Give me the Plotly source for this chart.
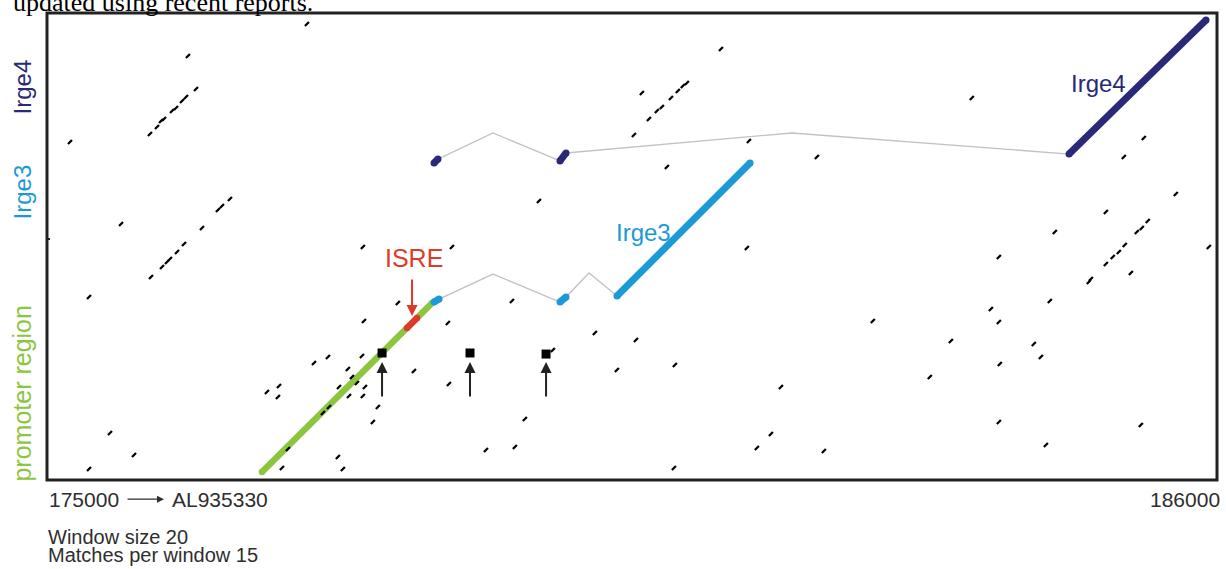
import plotly.graph_objects as go

# ---------------- data (reference position in bp, query position) ----------------
X_RANGE = [175000, 186000]
Y_RANGE = [0, 4390]

# promoter region match (green) and ISRE element (red)
promoter_x = [177021, 178620]
promoter_y = [75, 1664]
isre_x = [178385, 178479]
isre_y = [1429, 1523]

# Irge3 exon matches and intron connectors
irge3_exon_x = [178639, 178686, None, 179823, 179880, None, 180359, 181610]
irge3_exon_y = [1673, 1701, None, 1673, 1720, None, 1730, 2980]
irge3_intron_x = [178686, 179193, 179823, None, 179880, 180096, 180359]
irge3_intron_y = [1701, 1936, 1673, None, 1720, 1946, 1730]

# Irge4 exon matches and intron connectors
irge4_exon_x = [178639, 178676, None, 179823, 179880, None, 184609, 185897]
irge4_exon_y = [2980, 3017, None, 2999, 3074, None, 3064, 4324]
irge4_intron_x = [178676, 179193, 179823, None, 179880, 182004, 184609]
irge4_intron_y = [3017, 3262, 2999, None, 3074, 3262, 3064]

# background dot-plot matches
dot_x = [176325, 176401, 176307, 176269, 176213, 176175, 176100, 176072, 176034, 175968,
         175216, 176720, 176645, 176607, 176457, 176288, 176222, 176156, 176128, 176081,
         175978, 175696, 175395, 175592, 175818, 175395, 177444, 177970, 178807, 178299,
         177980, 178769, 179371, 180151, 177641, 177961, 177510, 177829, 177867, 177914,
         177745, 177989, 177970, 177839, 177181, 177068, 177171, 178450, 178779, 178111,
         177651, 177594, 178064, 179493, 179399, 179127, 177265, 177735, 177209, 177782,
         179756, 181336, 180593, 181016, 180978, 180931, 180866, 180781, 180734, 180659,
         180518, 181599, 182238, 180828, 179625, 181580, 183695, 185312, 185124, 185613,
         184955, 184475, 185349, 185293, 185246, 185133, 185923, 183949, 185077, 185020,
         184955, 184814, 184795, 185190, 184428, 183874, 183949, 182764, 183498, 184278,
         184344, 183958, 183300, 180537, 180358, 180903, 181900, 181806, 181674, 182304,
         180894, 183949, 184391, 185284]
dot_y = [3986, 3675, 3600, 3563, 3497, 3469, 3393, 3375, 3318, 3252,
         3177, 2641, 2576, 2538, 2369, 2218, 2143, 2077, 2049, 2002,
         1908, 2406, 1720, 442, 235, 103, 4286, 2190, 2190, 1664,
         1495, 1476, 1683, 1382, 1156, 1166, 1100, 1043, 968, 912,
         874, 874, 790, 790, 884, 827, 780, 1025, 902, 686,
         686, 630, 545, 573, 310, 282, 291, 216, 113, 103,
         1222, 4051, 3638, 3732, 3704, 3657, 3591, 3506, 3469, 3393,
         3243, 3187, 3036, 2942, 2623, 2181, 3591, 3215, 3036, 2688,
         2519, 2331, 2435, 2369, 2331, 2209, 2190, 2096, 2143, 2096,
         2030, 1889, 1861, 1946, 1683, 1607, 1485, 1495, 1307, 1278,
         1156, 1090, 968, 1316, 1034, 1081, 874, 432, 301, 273,
         113, 545, 329, 517]

# highlighted matches (squares) with arrows
square_x = [178150, 178977, 179692]
square_y = [1194, 1194, 1184]
arrow_tail_y = 771
arrow_head_y = 1109

# text labels
label_irge4 = (184882, 3732)
label_irge3 = (180604, 2331)
label_isre = (178451, 2087)
isre_arrow_x = 178432
isre_arrow_tail_y = 1899
isre_arrow_head_y = 1542
boundary_tick = [2265]

GREEN = "#8cc63f"
RED = "#dd3b2a"
BLUE = "#1b9ad6"
NAVY = "#2a2878"
GRAY = "#c2c2c2"
TEXT = "#2e2e2e"

fig = go.Figure()

for ix, iy in [(irge3_intron_x, irge3_intron_y), (irge4_intron_x, irge4_intron_y)]:
    fig.add_trace(go.Scatter(x=ix, y=iy, mode="lines", line=dict(color=GRAY, width=1.3),
                             hoverinfo="skip"))

def seg(xs, ys, color, width):
    fig.add_trace(go.Scatter(x=xs, y=ys, mode="lines+markers",
                             line=dict(color=color, width=width), connectgaps=False,
                             marker=dict(symbol="circle", size=width, color=color,
                                         line=dict(width=0)),
                             hoverinfo="skip"))

seg(promoter_x, promoter_y, GREEN, 6.5)
seg(isre_x, isre_y, RED, 6.5)
seg(irge3_exon_x, irge3_exon_y, BLUE, 7)
seg(irge4_exon_x, irge4_exon_y, NAVY, 7)

fig.add_trace(go.Scatter(x=dot_x, y=dot_y, mode="markers",
                         marker=dict(symbol="line-ne", size=4, color="black",
                                     line=dict(color="black", width=2.3)),
                         hoverinfo="skip"))
fig.add_trace(go.Scatter(x=square_x, y=square_y, mode="markers",
                         marker=dict(symbol="square", size=9, color="black"),
                         hoverinfo="skip"))

# arrows pointing to squares
for sx in square_x:
    fig.add_annotation(x=sx, y=arrow_head_y, ax=sx, ay=arrow_tail_y, xref="x", yref="y",
                       axref="x", ayref="y", showarrow=True, arrowhead=2, arrowsize=1.1,
                       arrowwidth=2, arrowcolor="#222222", text="")
# ISRE arrow
fig.add_annotation(x=isre_arrow_x, y=isre_arrow_head_y, ax=isre_arrow_x, ay=isre_arrow_tail_y,
                   xref="x", yref="y", axref="x", ayref="y", showarrow=True, arrowhead=2,
                   arrowsize=1.1, arrowwidth=2, arrowcolor=RED, text="")

FONT = "Liberation Sans, Arial, sans-serif"
fig.add_annotation(x=label_irge4[0], y=label_irge4[1], text="Irge4", showarrow=False,
                   xanchor="center", yanchor="middle",
                   font=dict(family=FONT, size=24, color=NAVY))
fig.add_annotation(x=label_irge3[0], y=label_irge3[1], text="Irge3", showarrow=False,
                   xanchor="center", yanchor="middle",
                   font=dict(family=FONT, size=24, color=BLUE))
fig.add_annotation(x=label_isre[0], y=label_isre[1], text="ISRE", showarrow=False,
                   xanchor="center", yanchor="middle",
                   font=dict(family=FONT, size=25, color=RED))

# rotated side labels
for txt, yp, col, fs in [("Irge4", 0.8415, NAVY, 24), ("Irge3", 0.6167, BLUE, 24),
                         ("promoter region", 0.186, GREEN, 25)]:
    fig.add_annotation(x=-0.021, y=yp, xref="paper", yref="paper", text=txt, textangle=-90,
                       xanchor="center", yanchor="middle",
                       showarrow=False, font=dict(family=FONT, size=fs, color=col))

# bottom texts
fig.add_annotation(x=0.0, y=-0.041, xref="paper", yref="paper", text="175000",
                   xanchor="left", yanchor="middle", showarrow=False,
                   font=dict(family=FONT, size=21, color=TEXT))
fig.add_annotation(x=(164 - 47) / 1170, y=-0.041, ax=-38, ay=0, xref="paper", yref="paper",
                   showarrow=True, arrowhead=2, arrowsize=1, arrowwidth=1.4,
                   arrowcolor=TEXT, text="")
fig.add_annotation(x=(170 - 47) / 1170, y=-0.041, xref="paper", yref="paper", text="AL935330",
                   xanchor="left", yanchor="middle", showarrow=False,
                   font=dict(family=FONT, size=21, color=TEXT))
fig.add_annotation(x=1.004, y=-0.041, xref="paper", yref="paper", text="186000",
                   xanchor="right", yanchor="middle", showarrow=False,
                   font=dict(family=FONT, size=21, color=TEXT))
fig.add_annotation(x=0.0, y=-0.121, xref="paper", yref="paper", text="Window size 20",
                   xanchor="left", yanchor="middle", showarrow=False, borderpad=0,
                   font=dict(family=FONT, size=20, color=TEXT))
fig.add_annotation(x=0.0, y=-0.161, xref="paper", yref="paper", text="Matches per window 15",
                   xanchor="left", yanchor="middle", showarrow=False, borderpad=0,
                   font=dict(family=FONT, size=20, color=TEXT))

# partially cut caption text at the top
fig.add_annotation(x=-0.031, y=1.0225, xref="paper", yref="paper",
                   text="updated using recent reports.", xanchor="left", yanchor="middle",
                   showarrow=False,
                   font=dict(family="Liberation Serif, Times New Roman, serif", size=26,
                             color="black"))

fig.add_shape(type="rect", xref="paper", yref="paper", x0=0, x1=1, y0=0, y1=1,
              line=dict(color="#222222", width=3))

fig.update_layout(
    width=1226, height=569,
    margin=dict(l=47, r=9, t=13, b=89),
    paper_bgcolor="white", plot_bgcolor="white",
    showlegend=False,
    xaxis=dict(range=X_RANGE, showgrid=False, zeroline=False, showticklabels=False,
               showline=False, ticks=""),
    yaxis=dict(range=Y_RANGE, showgrid=False, zeroline=False, showticklabels=False,
               showline=False, ticks="inside", tickvals=boundary_tick, ticklen=3,
               tickwidth=2, tickcolor="#222222"),
)

fig.write_html("out.html")
